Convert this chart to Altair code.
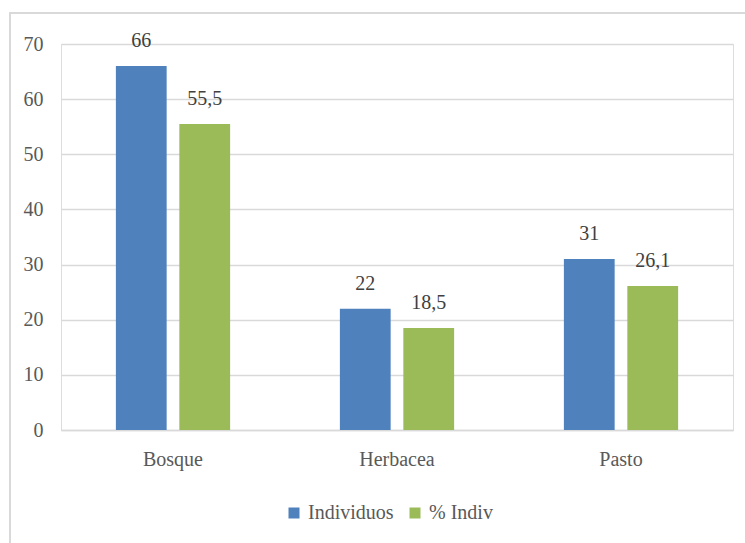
import altair as alt
import pandas as pd

categorias = ["Bosque", "Herbacea", "Pasto"]
series = ["Individuos", "% Indiv"]
individuos = [66, 22, 31]
pct_indiv = [55.5, 18.5, 26.1]
etiquetas_ind = ["66", "22", "31"]
etiquetas_pct = ["55,5", "18,5", "26,1"]
colores = ["#4F81BD", "#9BBB59"]
y_ticks = [0, 10, 20, 30, 40, 50, 60, 70]

rows = []
for c, v, t in zip(categorias, individuos, etiquetas_ind):
    rows.append({"categoria": c, "serie": series[0], "valor": v, "etiqueta": t})
for c, v, t in zip(categorias, pct_indiv, etiquetas_pct):
    rows.append({"categoria": c, "serie": series[1], "valor": v, "etiqueta": t})
df = pd.DataFrame(rows)

FONT = "Liberation Serif, Times New Roman, serif"

x_enc = alt.X(
    "categoria:N",
    sort=categorias,
    title=None,
    scale=alt.Scale(paddingInner=0.49, paddingOuter=0.245),
    axis=alt.Axis(
        labelAngle=0, ticks=False, domainColor="#D9D9D9", domainWidth=1.5,
        labelColor="#595959", labelFontSize=20, labelFont=FONT, labelPadding=19,
    ),
)
xoff_enc = alt.XOffset(
    "serie:N", sort=series, scale=alt.Scale(paddingInner=0.2, paddingOuter=0)
)
y_enc = alt.Y(
    "valor:Q",
    title=None,
    scale=alt.Scale(domain=[0, 70], nice=False),
    axis=alt.Axis(
        values=y_ticks, domain=False, ticks=False, gridColor="#D9D9D9",
        gridWidth=1.5, labelColor="#595959", labelFontSize=20, labelFont=FONT,
        labelPadding=18,
    ),
)

base = alt.Chart(df)

bars = base.mark_bar().encode(
    x=x_enc,
    xOffset=xoff_enc,
    y=y_enc,
    color=alt.Color(
        "serie:N",
        sort=series,
        scale=alt.Scale(domain=series, range=colores),
        legend=alt.Legend(
            title=None, orient="none", direction="horizontal",
            legendX=223, legendY=459, symbolType="square", symbolSize=121,
            symbolStrokeWidth=0, labelFont=FONT, labelFontSize=20,
            labelColor="#595959", columnPadding=11, labelOffset=4,
        ),
    ),
)

labels = base.mark_text(
    font=FONT, fontSize=20, color="#404040", baseline="alphabetic", dy=-19
).encode(
    x=alt.X("categoria:N", sort=categorias),
    xOffset=alt.XOffset("serie:N", sort=series),
    y="valor:Q",
    text="etiqueta:N",
)

# light grey frame around the whole figure
frame = alt.Chart(pd.DataFrame({"k": [0]})).mark_rect(
    fill=None, stroke="#D9D9D9", strokeWidth=2
).encode(
    x=alt.value(-51), y=alt.value(-31), x2=alt.value(720), y2=alt.value(530)
)

chart = (
    alt.layer(frame, bars, labels)
    .properties(
        width=672,
        height=386,
        padding={"left": 61, "top": 44, "right": 12, "bottom": 113},
        autosize=alt.AutoSizeParams(type="none"),
        background="white",
    )
    .configure_view(stroke=None)
    .configure(font=FONT)
)

chart.save("out.html", embed_options={"renderer": "svg", "actions": False})
